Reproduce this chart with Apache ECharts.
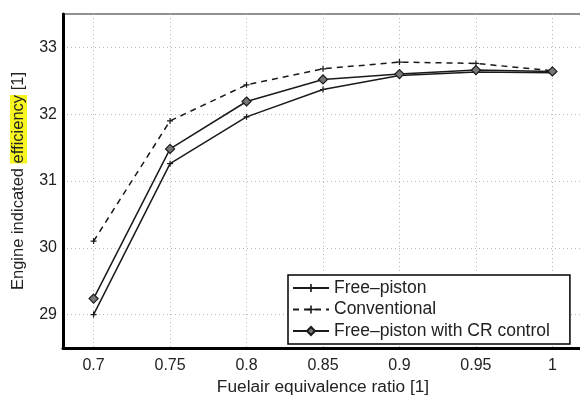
<!DOCTYPE html>
<html>
<head>
<meta charset="utf-8">
<script src="https://cdn.jsdelivr.net/npm/echarts@6/dist/echarts.min.js"></script>
<style>
  html, body { margin: 0; padding: 0; background: #fff; }
  #chart { width: 580px; height: 398px; }
</style>
</head>
<body>
<div id="chart"></div>
<script>
const ratios = [0.7, 0.75, 0.8, 0.85, 0.9, 0.95, 1];
const freePiston = [29.0, 31.26, 31.96, 32.37, 32.58, 32.63, 32.62];
const conventional = [30.1, 31.9, 32.44, 32.68, 32.78, 32.76, 32.65];
const freePistonCR = [29.24, 31.48, 32.19, 32.52, 32.6, 32.66, 32.64];

const plusIcon = 'path://M4,0H6V4H10V6H6V10H4V6H0V4H4Z';
const ink = '#1a1a1a';
const gridGray = '#b8b8b8';
const clear = 'rgba(0,0,0,0)';

function pairs(ys) {
  return ratios.map((x, i) => [x, ys[i]]);
}

const chart = echarts.init(document.getElementById('chart'));

chart.setOption({
  animation: false,
  textStyle: { fontFamily: 'Liberation Sans, Arial, sans-serif' },
  grid: {
    left: 63, top: 14, width: 520, height: 334,
    outerBoundsMode: 'none',
    containLabel: false,
    show: true, borderColor: '#222', borderWidth: 1.2
  },
  xAxis: {
    type: 'value',
    min: 0.68, max: 1.02, interval: 0.01,
    name: 'Fuelair equivalence ratio [1]',
    nameLocation: 'middle', nameGap: 30,
    nameTextStyle: { fontSize: 17.3, color: '#222' },
    axisLine: { onZero: false, lineStyle: { color: '#000', width: 3 } },
    axisTick: { show: false },
    axisLabel: {
      fontSize: 16, color: '#222', margin: 10,
      formatter: v => Math.abs(v * 20 - Math.round(v * 20)) < 1e-6 ? String(parseFloat(v.toFixed(2))) : ''
    },
    splitLine: {
      show: true,
      lineStyle: { type: [1, 3], width: 1, color: [clear, clear, gridGray, clear, clear] }
    }
  },
  yAxis: {
    type: 'value',
    min: 28.5, max: 33.5, interval: 0.5,
    name: '{a|Engine indicated }{b|efficiency}{a| [1]}',
    nameLocation: 'middle', nameGap: 36, nameRotate: 90,
    nameTextStyle: {
      rich: {
        a: { fontSize: 16.5, color: '#222' },
        b: { fontSize: 16.5, color: '#222', backgroundColor: '#f7f520' }
      }
    },
    axisLine: { show: true, lineStyle: { color: '#000', width: 3 } },
    axisTick: { show: false },
    axisLabel: {
      fontSize: 16, color: '#222', margin: 6,
      formatter: v => Number.isInteger(v) ? String(v) : ''
    },
    splitLine: {
      show: true,
      lineStyle: { type: [1, 3], width: 1, color: [clear, gridGray] }
    }
  },
  legend: {
    orient: 'vertical',
    left: 288, top: 275,
    padding: [4, 20, 4, 4],
    itemWidth: 36, itemHeight: 10, itemGap: 3.5,
    borderColor: '#000', borderWidth: 1.5,
    backgroundColor: '#fff',
    textStyle: { fontSize: 17.5, color: '#222', lineHeight: 18 },
    data: ['Free\u2013piston', 'Conventional', 'Free\u2013piston with CR control']
  },
  series: [
    {
      name: 'Free\u2013piston', type: 'line', data: pairs(freePiston),
      symbol: plusIcon, symbolSize: 6,
      lineStyle: { color: ink, width: 1.5 },
      itemStyle: { color: ink }
    },
    {
      name: 'Conventional', type: 'line', data: pairs(conventional),
      symbol: plusIcon, symbolSize: 6,
      lineStyle: { color: ink, width: 1.5, type: [6, 5] },
      itemStyle: { color: ink }
    },
    {
      name: 'Free\u2013piston with CR control', type: 'line', data: pairs(freePistonCR),
      symbol: 'diamond', symbolSize: 9,
      lineStyle: { color: ink, width: 1.5 },
      itemStyle: { color: '#777', borderColor: ink, borderWidth: 1.2 }
    }
  ]
});
</script>
</body>
</html>
